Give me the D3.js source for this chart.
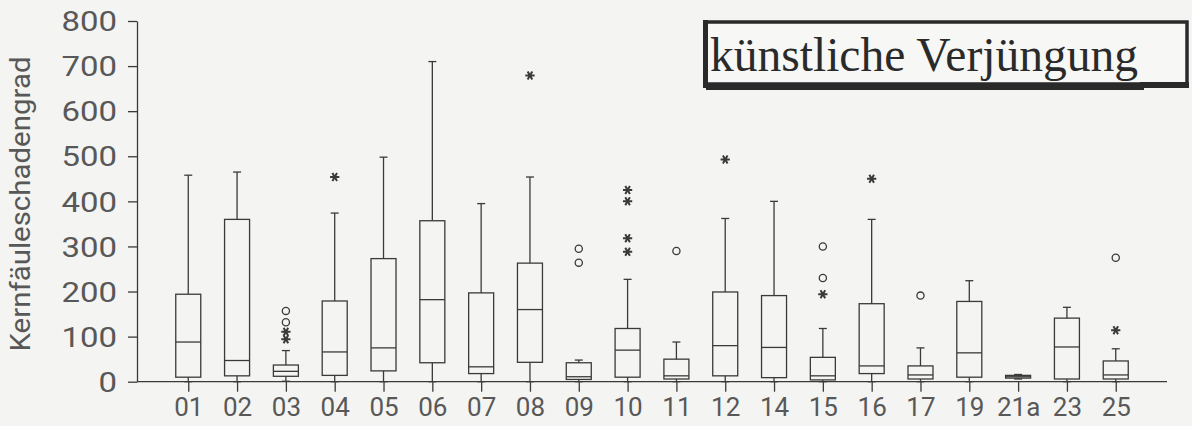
<!DOCTYPE html>
<html lang="de">
<head>
<meta charset="utf-8">
<title>Kernfäuleschadengrad</title>
<style>
body{
  margin: 0;
  background: #f4f4f2;
}
svg text.sans{
  font-family: Roboto, "Open Sans", "Liberation Sans", sans-serif;
  font-weight: 400;
  fill: #585858;
}
.axis path, .axis line{
  fill: none;
  stroke: #3a3a3a;
  stroke-width: 1.3;
}
</style>
</head>
<body>
<div id="chart"></div>
<script src="https://d3js.org/d3.v7.min.js"></script>
<script>

const width = 1192;
const height = 426;
const margin = { top: 21, right: 25, bottom: 44.3, left: 137 };

// data
const categories = ["01","02","03","04","05","06","07","08","09","10","11","12","14","15","16","17","19","21a","23","25"];
const whiskerLow  = [0, 0, 1, 0, 0, 0, 0, 0, 0, 0, 0, 0, 0, 0, 0, 0, 0, 6, 0, 0];
const q1          = [10, 13, 12, 14, 24, 42, 18, 43, 5, 10, 6, 13, 9, 4, 18, 6, 10, 8, 6, 6];
const medians     = [88, 47, 23, 66, 75, 182, 33, 160, 11, 70, 13, 80, 76, 13, 35, 15, 64, 11, 77, 15];
const q3          = [194, 360, 37, 179, 273, 357, 197, 263, 42, 118, 50, 199, 191, 54, 173, 35, 178, 14, 141, 46];
const whiskerHigh = [458, 465, 69, 374, 498, 710, 395, 454, 48, 227, 88, 362, 400, 118, 360, 75, 224, 16, 165, 73];

const circleCats = ["03","03","09","09","11","15","15","17","25"];
const circleVals = [157, 132, 295, 264, 290, 300, 230, 191, 275];
const starCats = ["03","03","04","08","10","10","10","10","12","15","16","25"];
const starVals = [111, 94, 454, 679, 425, 400, 318, 288, 493, 194, 450, 114];

const yTicks = [0, 100, 200, 300, 400, 500, 600, 700, 800];
const yTitle = "Kernfäuleschadengrad";
const legendText = "künstliche Verjüngung";

const boxes = categories.map((c, i) => ({
  cat: c, lo: whiskerLow[i], q1: q1[i], med: medians[i], q3: q3[i], hi: whiskerHigh[i]
}));

const svg = d3.select('#chart')
  .append('svg')
  .attr('width', width)
  .attr('height', height);

const x = d3.scalePoint()
  .domain(categories)
  .range([margin.left, width - margin.right])
  .padding(1.05);

const y = d3.scaleLinear()
  .domain([0, 800])
  .range([height - margin.bottom, margin.top]);

const boxW = 25;
const capW = 8;
const ink = '#3a3a3a';

// y axis
const yAxis = svg.append('g')
  .attr('class', 'axis')
  .attr('transform', 'translate(' + margin.left + ',0)')
  .call(d3.axisLeft(y).tickValues(yTicks).tickSize(9).tickPadding(19).tickSizeOuter(0));
yAxis.selectAll('text')
  .attr('class', 'sans')
  .style('font-size', '27px')
  .attr('dy', '0.36em')
  .attr('transform', 'scale(1.22,1)')
  .attr('x', -20 / 1.22);
yAxis.attr('font-family', null).attr('font-size', null);

// x axis
const xAxis = svg.append('g')
  .attr('class', 'axis')
  .attr('transform', 'translate(0,' + y(0) + ')')
  .call(d3.axisBottom(x).tickSize(10).tickPadding(8).tickSizeOuter(0));
xAxis.select('.domain').attr('d', 'M' + margin.left + ',0H' + (width - margin.right));
xAxis.selectAll('text')
  .attr('class', 'sans')
  .style('font-size', '26px')
  .attr('dy', '0.62em');
xAxis.attr('font-family', null).attr('font-size', null);

// y title
svg.append('text')
  .attr('class', 'sans')
  .attr('transform', 'translate(30,' + 204 + ') rotate(-90)')
  .attr('text-anchor', 'middle')
  .attr('textLength', 295)
  .attr('lengthAdjust', 'spacingAndGlyphs')
  .style('font-size', '28px')
  .text(yTitle);

// boxes
const g = svg.append('g')
  .attr('fill', 'none')
  .attr('stroke', ink)
  .attr('stroke-width', 1.3);

const b = g.selectAll('g.box')
  .data(boxes)
  .join('g')
  .attr('class', 'box');

b.append('line')
  .attr('x1', d => x(d.cat)).attr('x2', d => x(d.cat))
  .attr('y1', d => y(d.q3)).attr('y2', d => y(d.hi));
b.append('line')
  .attr('x1', d => x(d.cat)).attr('x2', d => x(d.cat))
  .attr('y1', d => y(d.q1)).attr('y2', d => y(d.lo));
b.append('line')
  .attr('x1', d => x(d.cat) - capW / 2).attr('x2', d => x(d.cat) + capW / 2)
  .attr('y1', d => y(d.hi)).attr('y2', d => y(d.hi));
b.append('line')
  .attr('x1', d => x(d.cat) - capW / 2).attr('x2', d => x(d.cat) + capW / 2)
  .attr('y1', d => y(d.lo)).attr('y2', d => y(d.lo));
b.append('rect')
  .attr('x', d => x(d.cat) - boxW / 2)
  .attr('width', boxW)
  .attr('y', d => y(d.q3))
  .attr('height', d => Math.max(1, y(d.q1) - y(d.q3)));
b.append('line')
  .attr('x1', d => x(d.cat) - boxW / 2).attr('x2', d => x(d.cat) + boxW / 2)
  .attr('y1', d => y(d.med)).attr('y2', d => y(d.med));

// outliers
g.selectAll('circle.out')
  .data(circleCats.map((c, i) => [c, circleVals[i]]))
  .join('circle')
  .attr('class', 'out')
  .attr('cx', d => x(d[0]))
  .attr('cy', d => y(d[1]))
  .attr('r', 3.6);

g.selectAll('path.star')
  .data(starCats.map((c, i) => [c, starVals[i]]))
  .join('path')
  .attr('class', 'star')
  .attr('stroke-width', 2)
  .attr('transform', d => 'translate(' + x(d[0]) + ',' + y(d[1]) + ') rotate(90)')
  .attr('d', d3.symbol(d3.symbolAsterisk, 60));

// legend box
const lg = svg.append('g');
lg.append('rect')
  .attr('x', 705).attr('y', 22)
  .attr('width', 482).attr('height', 62)
  .attr('fill', '#f7f7f5')
  .attr('stroke', '#2a2a2a')
  .attr('stroke-width', 3.5);
lg.append('rect')
  .attr('x', 703).attr('y', 20)
  .attr('width', 5).attr('height', 68)
  .attr('fill', '#2a2a2a');
lg.append('rect')
  .attr('x', 706).attr('y', 83)
  .attr('width', 438).attr('height', 7)
  .attr('fill', '#2a2a2a');
lg.append('rect')
  .attr('x', 1140).attr('y', 82)
  .attr('width', 49).attr('height', 6)
  .attr('fill', '#2a2a2a');
lg.append('text')
  .attr('x', 710).attr('y', 71)
  .attr('textLength', 428)
  .attr('lengthAdjust', 'spacingAndGlyphs')
  .style('font-family', '"Liberation Serif", "DejaVu Serif", serif')
  .style('font-size', '48px')
  .style('fill', '#2a2a2a')
  .text(legendText);

</script>
</body>
</html>
